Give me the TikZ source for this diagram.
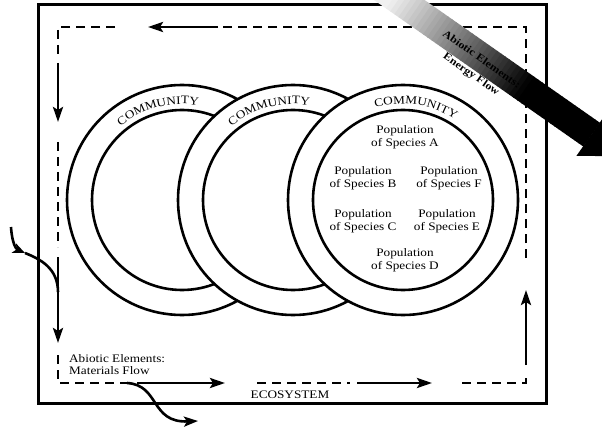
\documentclass[tikz,border=0pt]{standalone}
\usepackage{fontspec}
\setmainfont{Liberation Serif}[FakeStretch=1.15]
\usetikzlibrary{arrows.meta,decorations.text,calc}
\newcommand{\commfont}{\fontsize{11.5}{13}\selectfont}
\begin{document}
\begin{tikzpicture}[x=1pt,y=1pt,
  flow/.style={line width=2.8pt, dash pattern=on 9pt off 6pt},
  flowarrow/.style={line width=2.8pt, -{Stealth[length=15pt,width=10pt,inset=3pt]}},
  pipe/.style={line width=2.6pt},
  ring/.style={line width=2.6pt},
  pop/.style={align=center, font=\fontsize{11.5}{12.5}\selectfont, inner sep=0pt},
  lbl/.style={font=\fontsize{11.5}{12}\selectfont, inner sep=0pt},
  arclabel/.style={decorate, decoration={text along path, text={|\commfont|COMMUNITY}, text align={align=center}}},
  energytext/.style={transform shape, inner sep=0pt, align=center, font=\bfseries\fontsize{10.5}{18}\selectfont},
]
\useasboundingbox (0,0) rectangle (602,429);
\fill[white] (0,0) rectangle (602,429);

% ecosystem boundary
\draw[line width=3pt] (38,26) rectangle (546,424);

% three communities, each drawn over the previous one
\coordinate (c1) at (182,229);
\coordinate (c2) at (293,229);
\coordinate (c3) at (403,229);
\draw[ring] (c1) circle[radius=115];
\draw[ring] (c1) circle[radius=90];
\draw[ring, fill=white] (c2) circle[radius=115];
\draw[ring] (c2) circle[radius=90];
\draw[ring, fill=white] (c3) circle[radius=115];
\draw[ring] (c3) circle[radius=90];

% community labels set along the rings
\path[arclabel] ($(c1)+(145:96)$) arc[start angle=145, end angle=65, radius=96];
\path[arclabel] ($(c2)+(145:96)$) arc[start angle=145, end angle=65, radius=96];
\path[arclabel] ($(c3)+(122:96)$) arc[start angle=122, end angle=42, radius=96];

% populations inside the third community
\node[pop] (popA) at (405,292) {Population\\of Species A};
\node[pop] (popB) at (363,251) {Population\\of Species B};
\node[pop] (popF) at (449,251) {Population\\of Species F};
\node[pop] (popC) at (363,208) {Population\\of Species C};
\node[pop] (popE) at (447,208) {Population\\of Species E};
\node[pop] (popD) at (405,169) {Population\\of Species D};

% materials cycle: corners and segment ends
\coordinate (tr) at (526,402);
\coordinate (tl) at (58,402);
\coordinate (bl) at (58,46);
\coordinate (br) at (526,46);
\coordinate (t1) at (222,402);
\coordinate (t2) at (218,402);
\coordinate (t3) at (148,402);
\coordinate (t4) at (115,402);
\coordinate (l1) at (58,372);
\coordinate (l2) at (58,366);
\coordinate (l3) at (58,307);
\coordinate (l4) at (58,287);
\coordinate (l5) at (58,182);
\coordinate (l6) at (58,172);
\coordinate (l7) at (58,86);
\coordinate (l8) at (58,74);
\coordinate (b1) at (127,46);
\coordinate (b2) at (137,46);
\coordinate (b3) at (225,46);
\coordinate (b4) at (257,46);
\coordinate (b5) at (350,46);
\coordinate (b6) at (357,46);
\coordinate (b7) at (432,46);
\coordinate (b8) at (462,46);
\coordinate (r1) at (526,56);
\coordinate (r2) at (526,64);
\coordinate (r3) at (526,139);
\coordinate (r4) at (526,171);

\draw[flow] (r4) -- (tr) -- (t1);
\draw[flowarrow] (t2) -- (t3);
\draw[flow] (t4) -- (tl) -- (l1);
\draw[flowarrow] (l2) -- (l3);
\draw[flow] (l4) -- (l5);
\draw[flowarrow] (l6) -- (l7);
\draw[flow] (l8) -- (bl) -- (b1);
\draw[flowarrow] (b2) -- (b3);
\draw[flow] (b4) -- (b5);
\draw[flowarrow] (b6) -- (b7);
\draw[flow] (b8) -- (br) -- (r1);
\draw[flowarrow] (r2) -- (r3);

% materials entering from outside
\coordinate (inS) at (11,202);
\coordinate (inM) at (25,176);
\coordinate (inJ) at (58,137);
\draw[pipe, -{Stealth[length=12pt,width=10pt,inset=3pt]}] (inS) .. controls (12,186) and (16,180) .. (inM);
\draw[pipe] (inM) .. controls (40,170) and (58,161) .. (inJ);

% materials leaving the system
\coordinate (outE) at (198,8);
\draw[pipe, -{Stealth[length=14pt,width=10pt,inset=3pt]}] (b1) .. controls (160,44) and (150,6) .. (outE);

% labels
\node[lbl, anchor=west, align=left] (matlbl) at (69,64) {Abiotic Elements:\\Materials Flow};
\node[lbl, anchor=base] (ecolbl) at (290,31) {ECOSYSTEM};

% incoming energy: shaded arrow
\begin{scope}
\clip (0,0) rectangle (602,429);
\begin{scope}[shift={(591.4,294.5)}, rotate=-35]
\foreach \i in {0,...,51} {
  \pgfmathsetmacro\dist{260-5*\i}
  \pgfmathsetmacro\shadepct{min(100,max(6,100-(\dist-2.5-80)*88/150))}
  \fill[black!\shadepct] (-\dist-0.4,-14.5) rectangle (-\dist+5.4,14.5);
}
\fill[black] (0,-26) -- (38,0) -- (0,26) -- cycle;
\node[energytext] (energylbl) at (-133,-11) {Abiotic Elements:\\Energy Flow};
\end{scope}
\end{scope}
\end{tikzpicture}
\end{document}
